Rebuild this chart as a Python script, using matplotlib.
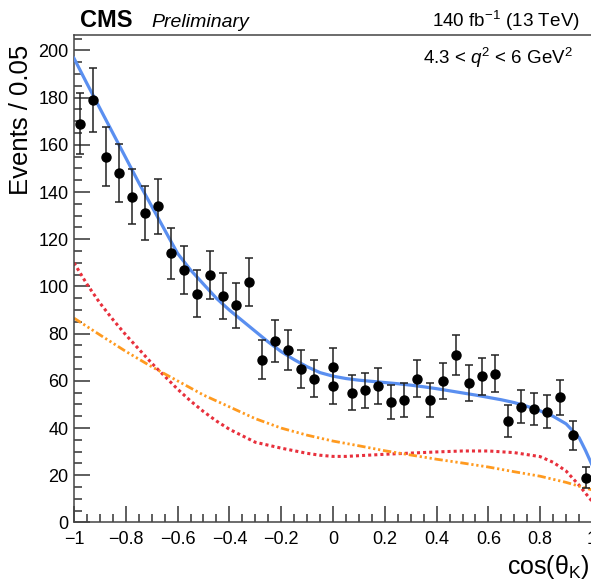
import matplotlib
matplotlib.use("Agg")
import matplotlib.pyplot as plt
from matplotlib.ticker import MultipleLocator


# Data points (bin centres, events per 0.05)
x_data = [-0.975, -0.925, -0.875, -0.825, -0.775, -0.725, -0.675, -0.625,
          -0.575, -0.525, -0.475, -0.425, -0.375, -0.325, -0.275, -0.225,
          -0.175, -0.125, -0.075, 0.0, 0.0, 0.075, 0.125, 0.175, 0.225,
          0.275, 0.325, 0.375, 0.425, 0.475, 0.525, 0.575, 0.625, 0.675,
          0.725, 0.775, 0.825, 0.875, 0.925, 0.975]
y_data = [169, 179, 155, 148, 138, 131, 134, 114, 107, 97, 105, 96, 92, 102,
          69, 77, 73, 65, 61, 66, 58, 55, 56, 58, 51, 52, 61, 52, 60, 71, 59,
          62, 63, 43, 49, 48, 47, 53, 37, 19]
y_err = [13.0, 13.4, 12.4, 12.2, 11.7, 11.4, 11.6, 10.7, 10.3, 9.8, 10.2, 9.8,
         9.6, 10.1, 8.3, 8.8, 8.5, 8.1, 7.8, 8.1, 7.6, 7.4, 7.5, 7.6, 7.1, 7.2,
         7.8, 7.2, 7.7, 8.4, 7.7, 7.9, 7.9, 6.6, 7.0, 6.9, 6.9, 7.3, 6.1, 4.4]

# Total fit curve (blue)
x_fit = [-1.0, -0.95, -0.9, -0.85, -0.8, -0.75, -0.7, -0.65, -0.6, -0.55,
         -0.5, -0.45, -0.4, -0.35, -0.3, -0.25, -0.2, -0.15, -0.1, -0.05,
         0.0, 0.05, 0.1, 0.15, 0.2, 0.25, 0.3, 0.35, 0.4, 0.45, 0.5, 0.55,
         0.6, 0.65, 0.7, 0.75, 0.8, 0.85, 0.9, 0.95, 0.975, 1.0]
y_fit = [196.7, 186, 175.5, 165, 154.5, 144, 134, 124, 114, 107, 101, 95, 90,
         85.5, 81, 76.5, 72.4, 69, 66, 63.5, 62, 61, 60.3, 59.8, 59.3, 58.8,
         58.2, 57.5, 56.7, 55.8, 54.9, 54, 53, 52, 50.8, 49.2, 47.3, 45, 41.8,
         36, 30.5, 24.4]

# Component 1 (red dotted)
x_red = [-1.0, -0.95, -0.9, -0.85, -0.8, -0.75, -0.7, -0.65, -0.6, -0.55,
         -0.5, -0.45, -0.4, -0.3, -0.2, -0.1, -0.05, 0.0, 0.05, 0.1, 0.2, 0.3,
         0.4, 0.5, 0.6, 0.7, 0.8, 0.85, 0.9, 0.95, 1.0]
y_red = [110, 101, 93, 86, 79.5, 73.5, 67.5, 62, 56.5, 51.5, 47, 43, 39.5,
         34, 31.5, 29.3, 28.5, 28, 28, 28.3, 28.9, 29.4, 29.9, 30.3, 30.3,
         29.6, 27.9, 25.5, 21.8, 15.8, 9]

# Component 2 (orange dash-dot-dot)
x_orange = [-1.0, -0.9, -0.8, -0.7, -0.6, -0.5, -0.4, -0.3, -0.2, -0.1, 0.0,
            0.1, 0.2, 0.3, 0.4, 0.5, 0.6, 0.7, 0.8, 0.9, 1.0]
y_orange = [86.6, 79.5, 72.5, 66, 60, 54, 49, 44, 40, 37, 34.5, 32.5, 30.4,
            28.6, 26.8, 25.2, 23.5, 21.5, 19.6, 17, 13.8]


plt.rcParams['font.family'] = ['Liberation Sans', 'DejaVu Sans']
plt.rcParams['mathtext.fontset'] = 'custom'
plt.rcParams['mathtext.rm'] = 'Liberation Sans'
plt.rcParams['mathtext.it'] = 'Liberation Sans:italic'
plt.rcParams['mathtext.bf'] = 'Liberation Sans:bold'

fig = plt.figure(figsize=(5.91, 5.83), dpi=100)
ax = fig.add_axes([0.1252, 0.1038, 0.8765, 0.8367])

# Curves
ax.plot(x_red, y_red, color='#e8303c', lw=2.2, linestyle=(0, (1, 1)),
        dash_capstyle='butt', zorder=2)
ax.plot(x_orange, y_orange, color='#ff9a1f', lw=2.0,
        linestyle=(0, (3, 1, 0.8, 1, 0.8, 1, 0.8, 1)), zorder=2)
ax.plot(x_fit, y_fit, color='#5a8ff0', lw=2.3, zorder=3)

# Data
ax.errorbar(x_data, y_data, yerr=y_err, fmt='o', color='black', ecolor='#222222',
            markersize=6.5, elinewidth=1.1, capsize=3, capthick=1.1, zorder=4)

ax.set_xlim(-1, 1)
ax.set_ylim(0, 206.7)

ax.xaxis.set_major_locator(MultipleLocator(0.2))
ax.xaxis.set_minor_locator(MultipleLocator(0.05))
ax.yaxis.set_major_locator(MultipleLocator(20))
ax.yaxis.set_minor_locator(MultipleLocator(5))

ax.tick_params(which='both', direction='in', top=False, right=False,
               colors='#333333', labelcolor='black', width=1.1)
ax.tick_params(which='major', length=11.5, labelsize=13)
ax.tick_params(which='minor', length=6)
ax.tick_params(axis='x', which='major', pad=6)
ax.tick_params(axis='y', which='major', pad=4)


def xfmt(v, pos):
    if abs(v) < 1e-9:
        return '0'
    s = f'{v:.1f}'.rstrip('0').rstrip('.')
    return s.replace('-', '\u2212')


ax.xaxis.set_major_formatter(plt.FuncFormatter(xfmt))

for side in ['left', 'bottom', 'top']:
    ax.spines[side].set_color('#444444')
    ax.spines[side].set_linewidth(1.1)
ax.spines['right'].set_visible(False)

# Labels
fig.text(0.036, 0.924, 'Events / 0.05', rotation=90, ha='center', va='top',
         fontsize=18.5)
fig.text(0.998, 0.016, r'cos($\mathrm{θ_K}$)', ha='right', va='baseline',
         fontsize=18)

fig.text(0.135, 0.954, 'CMS', fontsize=17, fontweight='bold', va='baseline')
fig.text(0.257, 0.954, 'Preliminary', fontsize=14, style='italic', va='baseline')
fig.text(0.981, 0.953, r'140 fb$^{-1}$ (13 TeV)', fontsize=13.6, ha='right',
         va='baseline')
fig.text(0.970, 0.891, r'4.3 < $q^{2}$ < 6 GeV$^{2}$', fontsize=13.5, ha='right',
         va='baseline')

fig.savefig('out.png', dpi=100)
